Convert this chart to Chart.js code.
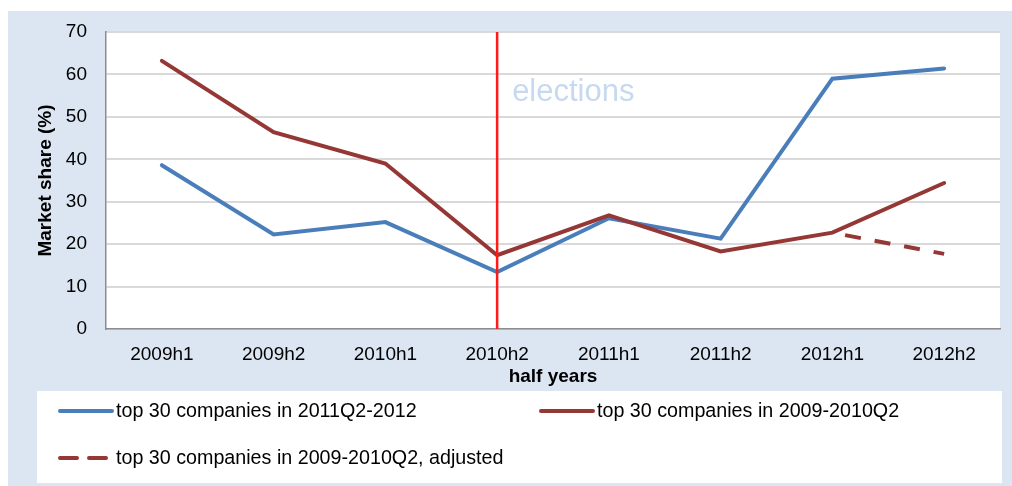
<!DOCTYPE html>
<html>
<head>
<meta charset="utf-8">
<script src="https://cdn.jsdelivr.net/npm/chart.js@4"></script>
<style>
  html, body { margin: 0; padding: 0; background: #ffffff; }
  #wrap { position: absolute; left: 0; top: 0; width: 1012px; height: 486px; }
</style>
</head>
<body>
<div id="wrap"><canvas id="chart"></canvas></div>
<script>
const halfYears = ['2009h1', '2009h2', '2010h1', '2010h2', '2011h1', '2011h2', '2012h1', '2012h2'];
const top30Recent = [38.6, 22.3, 25.2, 13.4, 26.1, 21.3, 59.0, 61.4];
const top30Early = [63.2, 46.4, 39.0, 17.4, 26.8, 18.3, 22.7, 34.4];
const top30EarlyAdjusted = [null, null, null, null, null, null, 22.7, 17.7];
const seriesNames = ['top 30 companies in 2011Q2-2012', 'top 30 companies in 2009-2010Q2', 'top 30 companies in 2009-2010Q2, adjusted'];
const yTicks = [0, 10, 20, 30, 40, 50, 60, 70];
const electionIndex = 3;

const FONT = 'Liberation Sans, Arial, Helvetica, sans-serif';
const BLUE = '#4a7ebb';
const RED = '#953735';

const ctx = document.querySelector('#chart').getContext('2d');

const backdrop = {
  id: 'backdrop',
  beforeDraw(chart) {
    const c = chart.ctx;
    const a = chart.chartArea;
    c.save();
    c.fillStyle = '#dce6f2';
    c.fillRect(8, 11, 1004, 475);
    c.fillStyle = '#ffffff';
    c.fillRect(a.left, a.top, a.right - a.left, a.bottom - a.top);
    c.restore();
  }
};

const elections = {
  id: 'elections',
  afterDatasetsDraw(chart) {
    const c = chart.ctx;
    const a = chart.chartArea;
    const x = chart.scales.x.getPixelForValue(electionIndex);
    c.save();
    c.strokeStyle = '#ff1a1a';
    c.lineWidth = 2.5;
    c.beginPath();
    c.moveTo(x, a.top);
    c.lineTo(x, a.bottom);
    c.stroke();
    c.fillStyle = '#c6d9f1';
    c.font = '31px ' + FONT;
    c.textBaseline = 'middle';
    c.fillText('elections', x + 15, chart.scales.y.getPixelForValue(55.7));
    c.restore();
  }
};

const boxLegend = {
  id: 'boxLegend',
  afterDraw(chart) {
    const c = chart.ctx;
    c.save();
    c.fillStyle = '#ffffff';
    c.fillRect(37, 391, 965, 92);
    const items = [
      { x: 60, y: 411, color: BLUE, dash: [] },
      { x: 541, y: 411, color: RED, dash: [] },
      { x: 60, y: 458, color: RED, dash: [17, 12] }
    ];
    items.forEach((it, i) => {
      c.strokeStyle = it.color;
      c.lineWidth = 4;
      c.lineCap = 'round';
      c.setLineDash(it.dash);
      c.beginPath();
      c.moveTo(it.x, it.y);
      c.lineTo(it.x + 52, it.y);
      c.stroke();
      c.setLineDash([]);
      c.fillStyle = '#000000';
      c.font = '19.7px ' + FONT;
      c.textBaseline = 'middle';
      c.fillText(seriesNames[i], it.x + 56, it.y + 1);
    });
    c.restore();
  }
};

new Chart(ctx, {
  type: 'line',
  data: {
    labels: halfYears,
    datasets: [
      {
        label: seriesNames[0],
        data: top30Recent,
        borderColor: BLUE,
        borderWidth: 4,
        borderCapStyle: 'round',
        pointRadius: 0,
        tension: 0,
        order: 2
      },
      {
        label: seriesNames[1],
        data: top30Early,
        borderColor: RED,
        borderWidth: 4,
        borderCapStyle: 'round',
        pointRadius: 0,
        tension: 0,
        order: 1
      },
      {
        label: seriesNames[2],
        data: top30EarlyAdjusted,
        borderColor: RED,
        borderWidth: 4,
        borderDash: [16, 14],
        borderDashOffset: 17,
        pointRadius: 0,
        tension: 0,
        order: 0
      }
    ]
  },
  options: {
    responsive: true,
    maintainAspectRatio: false,
    animation: false,
    layout: { padding: { left: 0, top: 32, right: 12, bottom: 95 } },
    plugins: {
      legend: { display: false },
      tooltip: { enabled: false }
    },
    scales: {
      x: {
        offset: true,
        grid: { display: false, drawTicks: false },
        border: { display: true, color: '#8c8c8c', width: 1.5 },
        ticks: { color: '#000', font: { family: FONT, size: 19 }, padding: 14, maxRotation: 0 },
        title: { display: true, text: 'half years', color: '#000', font: { family: FONT, size: 19, weight: 'bold' }, padding: { top: 0, bottom: 3 } },
        afterFit(s) { s.height = 62; }
      },
      y: {
        min: 0,
        max: 70,
        afterBuildTicks(s) { s.ticks = yTicks.map(v => ({ value: v })); },
        grid: { color: '#d9d9d9', lineWidth: 2, drawTicks: false },
        border: { display: true, color: '#8c8c8c', width: 1.5 },
        ticks: { color: '#000', font: { family: FONT, size: 19 }, padding: 19 },
        title: { display: true, text: 'Market share (%)', color: '#000', font: { family: FONT, size: 19, weight: 'bold' }, padding: { top: 34, bottom: 34 } },
        afterFit(s) { s.width = 106; }
      }
    }
  },
  plugins: [backdrop, elections, boxLegend]
});
</script>
</body>
</html>
